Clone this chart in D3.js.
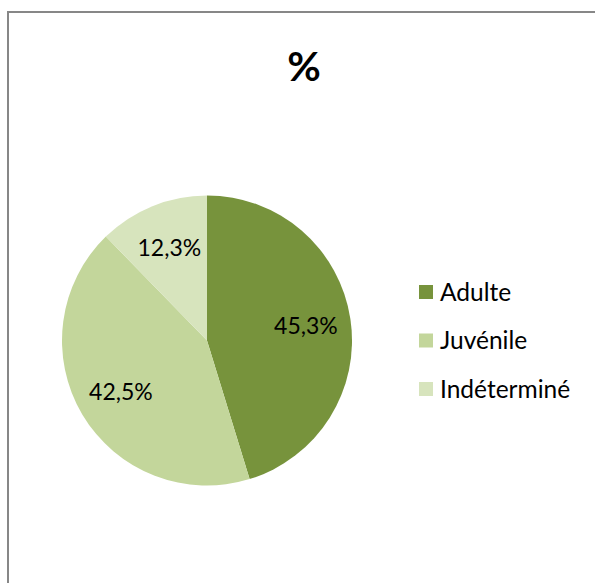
<!DOCTYPE html>
<html><head><meta charset="utf-8">
<script src="https://cdn.jsdelivr.net/npm/d3@7"></script>
<style>body{margin:0;background:#fff}svg{display:block}</style>
</head><body>
<svg id="c" width="595" height="583"></svg>
<script>
const categories = ["Adulte", "Juvénile", "Indéterminé"];
const values = [45.3, 42.5, 12.3];
const labels = ["45,3%", "42,5%", "12,3%"];
const colors = ["#77933C", "#C3D69B", "#D7E4BD"];
const title = "%";

const svg = d3.select("#c");
const font = "Lato, 'Open Sans', sans-serif";
svg.append("rect").attr("x", 8).attr("y", 12).attr("width", 620).attr("height", 620)
  .attr("fill", "#fff").attr("stroke", "#878787").attr("stroke-width", 2);

svg.append("text").attr("x", 304).attr("y", 81).attr("text-anchor", "middle")
  .attr("font-family", font).attr("font-weight", "bold").attr("font-size", 41).text(title);

const cx = 207, cy = 340.5, r = 145;
const pie = d3.pie().sort(null).value(d => d);
const arcs = pie(values);
const arc = d3.arc().innerRadius(0).outerRadius(r);
const labelArc = d3.arc().innerRadius(r * 0.69).outerRadius(r * 0.69);
const g = svg.append("g").attr("transform", `translate(${cx},${cy})`);
g.selectAll("path").data(arcs).join("path").attr("d", arc).attr("fill", (d, i) => colors[i]);
g.selectAll("text").data(arcs).join("text")
  .attr("transform", d => `translate(${labelArc.centroid(d)})`)
  .attr("text-anchor", "middle").attr("dy", "0.36em")
  .attr("font-family", font).attr("font-size", 23).attr("fill", "#000")
  .text((d, i) => labels[i]);

const y = d3.scalePoint().domain(categories).range([292, 389]);
const lg = svg.append("g");
categories.forEach((c, i) => {
  lg.append("rect").attr("x", 419).attr("y", y(c) - 7).attr("width", 14).attr("height", 14).attr("fill", colors[i]);
  lg.append("text").attr("x", 440).attr("y", y(c)).attr("dy", "0.36em")
    .attr("font-family", font).attr("font-size", 24.5).text(c);
});
</script>
</body></html>
